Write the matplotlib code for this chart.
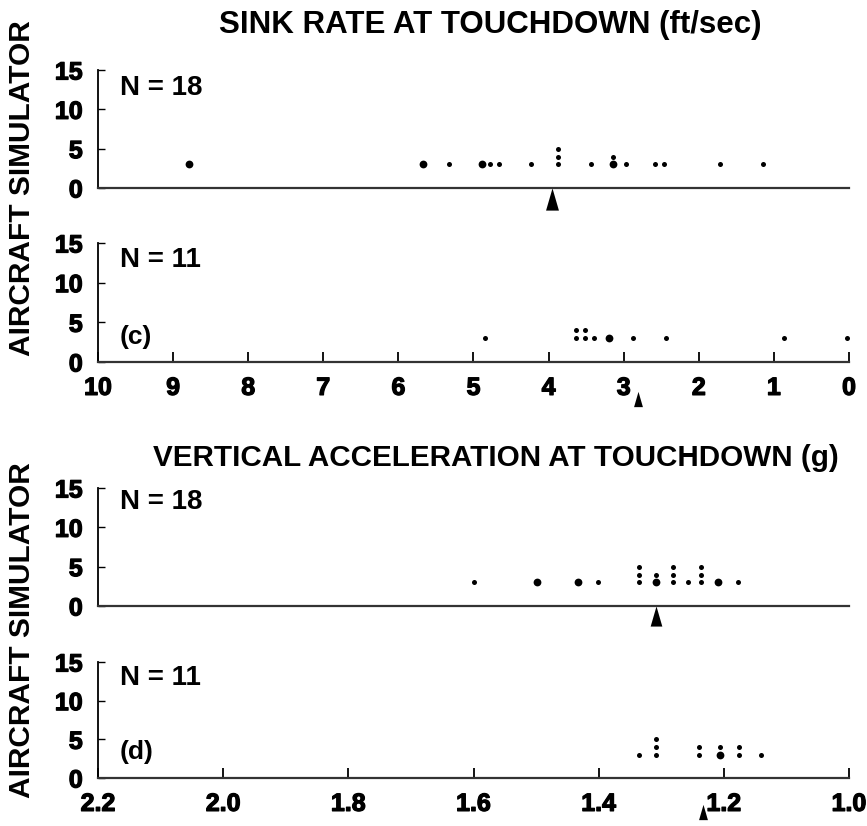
from collections import Counter
import matplotlib
matplotlib.use('Agg')
import matplotlib.pyplot as plt
import matplotlib.patheffects as pe
from matplotlib.transforms import blended_transform_factory

# %%
# touchdown sink rate, ft/sec (one value per landing)
sim_sink = [8.79, 5.67, 5.33, 4.89, 4.78, 4.66, 4.24, 3.88, 3.88, 3.88, 3.43,
            3.14, 3.14, 2.97, 2.58, 2.46, 1.72, 1.15]
sim_sink_heavy = [8.79, 5.67, 4.89, 3.14]
sim_sink_mean = 3.95

ac_sink = [4.85, 3.63, 3.63, 3.52, 3.52, 3.39, 3.20, 2.87, 2.44, 0.86, 0.03]
ac_sink_heavy = [3.20]
ac_sink_mean = 2.81

# touchdown vertical acceleration, g
sim_accel = [1.600, 1.498, 1.433, 1.401, 1.335, 1.335, 1.335, 1.309, 1.309,
             1.282, 1.282, 1.282, 1.257, 1.237, 1.237, 1.237, 1.210, 1.177]
sim_accel_heavy = [1.498, 1.433, 1.309, 1.210]
sim_accel_mean = 1.309

ac_accel = [1.336, 1.309, 1.309, 1.309, 1.240, 1.240, 1.206, 1.206,
            1.176, 1.176, 1.140]
ac_accel_heavy = [1.206]
ac_accel_mean = 1.233

sink_ticks = list(range(0, 11))
accel_ticks = [2.2, 2.0, 1.8, 1.6, 1.4, 1.2, 1.0]
accel_ticklabels = ['2.2', '2.0', '1.8', '1.6', '1.4', '1.2', '1.0']

# %%
W, H = 867, 826
FONT = ['Liberation Sans', 'DejaVu Sans']
HEAVY = [pe.withStroke(linewidth=0.9, foreground='black')]

fig = plt.figure(figsize=(W / 100, H / 100), dpi=100)


def bold_labels(labels):
    for lab in labels:
        lab.set_family(FONT)
        lab.set_fontweight('bold')
        lab.set_path_effects(HEAVY)


def panel(zero_px, height_px, xlim):
    ax = fig.add_axes([98 / W, (H - zero_px) / H, 751 / W, height_px / H])
    ax.set_xlim(*xlim)
    ax.set_ylim(0, 15)
    for s in ('top', 'right'):
        ax.spines[s].set_visible(False)
    ax.spines['left'].set_linewidth(1.3)
    ax.spines['bottom'].set_linewidth(1.6)
    ax.spines['bottom'].set_color('#333333')
    ax.set_yticks([0, 5, 10, 15])
    ax.tick_params(axis='y', direction='in', length=5, width=1, pad=11,
                   labelsize=18)
    bold_labels(ax.get_yticklabels())
    ax.set_xticks([])
    return ax


def dots(ax, values, heavy):
    # equal values are stacked one unit apart above the first dot
    for v, c in Counter(values).items():
        for k in range(c):
            big = (k == 0 and v in heavy)
            ax.plot(v, 3 + k, 'o', color='black', ms=5.6 if big else 3.6,
                    mec='none', clip_on=False)


def mean_arrow(ax, x, y_frac, size):
    tr = blended_transform_factory(ax.transData, ax.transAxes)
    ax.plot(x, y_frac, marker=[(-0.58, -1), (0.58, -1), (0, 1)],
            color='black', ms=size, mec='none', transform=tr, clip_on=False)


def bottom_axis(ax, ticks, labels):
    ax.set_xticks(ticks)
    ax.set_xticklabels(labels)
    ax.tick_params(axis='x', direction='in', length=7, width=1.3, pad=10,
                   labelsize=18)
    bold_labels(ax.get_xticklabels())


def note(ax, x, y, s, size=20):
    ax.text(x, y, s, transform=ax.transAxes, ha='left', va='center',
            fontsize=size, fontweight='bold', family=FONT)


# %%
ax1 = panel(188, 118, (10, 0))
dots(ax1, sim_sink, sim_sink_heavy)
mean_arrow(ax1, sim_sink_mean, -0.095, 16)
note(ax1, 0.029, 0.85, 'N = 18')

ax2 = panel(362, 119, (10, 0))
dots(ax2, ac_sink, ac_sink_heavy)
bottom_axis(ax2, sink_ticks, [str(t) for t in sink_ticks])
mean_arrow(ax2, ac_sink_mean, -0.315, 11)
note(ax2, 0.029, 0.857, 'N = 11')
note(ax2, 0.029, 0.21, '(c)', 19)

ax3 = panel(606, 118, (2.2, 1.0))
dots(ax3, sim_accel, sim_accel_heavy)
mean_arrow(ax3, sim_accel_mean, -0.085, 14.5)
note(ax3, 0.029, 0.88, 'N = 18')

ax4 = panel(778, 116, (2.2, 1.0))
dots(ax4, ac_accel, ac_accel_heavy)
bottom_axis(ax4, accel_ticks, accel_ticklabels)
mean_arrow(ax4, ac_accel_mean, -0.29, 11)
note(ax4, 0.029, 0.86, 'N = 11')
note(ax4, 0.029, 0.22, '(d)', 19)

# %%
fig.text(490 / W, 1 - 25 / H, 'SINK RATE AT TOUCHDOWN (ft/sec)', ha='center',
         va='center', fontsize=22.5, fontweight='bold', family=FONT)
fig.text(496 / W, 1 - 458 / H, 'VERTICAL ACCELERATION AT TOUCHDOWN (g)',
         ha='center', va='center', fontsize=21.3, fontweight='bold', family=FONT)
fig.text(22 / W, 1 - 188 / H, 'AIRCRAFT SIMULATOR', rotation=90, ha='center',
         va='center', fontsize=21.5, fontweight='bold', family=FONT)
fig.text(22 / W, 1 - 630 / H, 'AIRCRAFT SIMULATOR', rotation=90, ha='center',
         va='center', fontsize=21.5, fontweight='bold', family=FONT)

fig.savefig('out.png', dpi=100)
